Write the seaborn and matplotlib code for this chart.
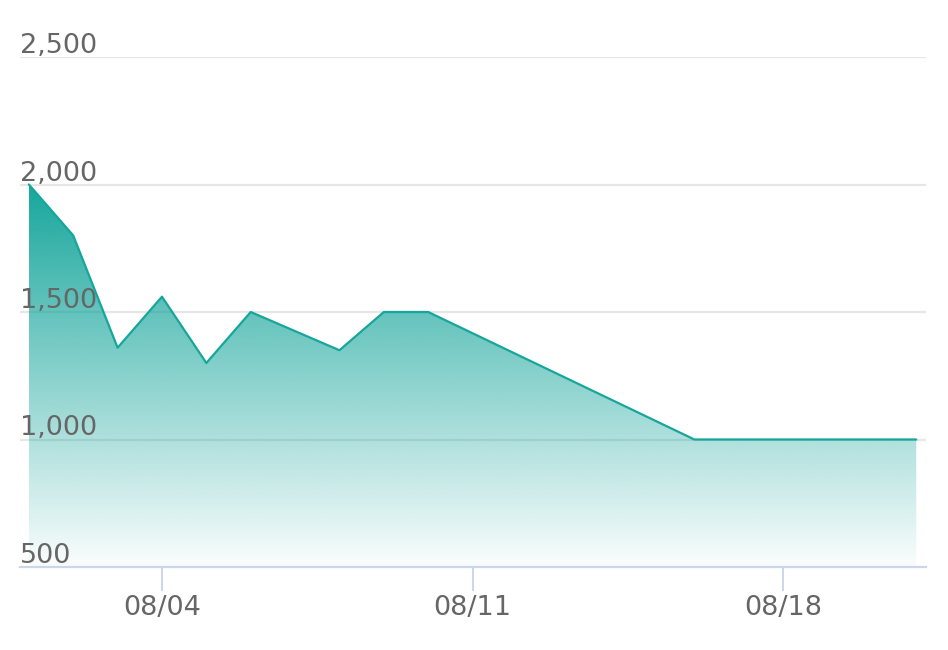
import matplotlib
matplotlib.use("Agg")
import matplotlib.pyplot as plt
import matplotlib.dates as mdates
import matplotlib.transforms as mtransforms
import numpy as np
import pandas as pd
import seaborn as sns

# -----------------------------
# DATA
# -----------------------------
dates = ["2024-08-01", "2024-08-02", "2024-08-03", "2024-08-04", "2024-08-05",
         "2024-08-06", "2024-08-08", "2024-08-09", "2024-08-10", "2024-08-16",
         "2024-08-21"]
values = [2000, 1800, 1360, 1560, 1300, 1500, 1350, 1500, 1500, 1000, 1000]

y_ticks = [500, 1000, 1500, 2000, 2500]
x_ticks = ["2024-08-04", "2024-08-11", "2024-08-18"]

df = pd.DataFrame({"date": pd.to_datetime(dates), "value": values})

line_color = "#17a69c"
text_color = "#666666"

# -----------------------------
# FIGURE
# -----------------------------
sns.set_theme(style="white")
plt.rcParams["font.family"] = ["DejaVu Sans"]

fig = plt.figure(figsize=(9.48, 6.5), dpi=100)
ax = fig.add_axes([20 / 948, 83 / 650, 906 / 948, 510 / 650])

sns.lineplot(data=df, x="date", y="value", color=line_color, linewidth=1.6, ax=ax, zorder=4)

xn = mdates.date2num(df["date"])
ax.set_xlim(xn[0] - 0.2, xn[-1] + 0.22)
ax.set_ylim(500, 2500)

# gradient fill under the line
fill = ax.fill_between(df["date"], df["value"], 500, color="none", lw=0)
ymax = max(values)
grad = np.linspace(0, 1, 256).reshape(-1, 1)
rgb = np.array(matplotlib.colors.to_rgb(line_color))
img = np.zeros((256, 1, 4))
img[:, 0, :3] = rgb
img[:, 0, 3] = 1 - grad[:, 0] * 0.98
im = ax.imshow(img, extent=[xn[0], xn[-1], 500, ymax], aspect="auto",
               origin="upper", zorder=2, interpolation="bilinear")
im.set_clip_path(fill.get_paths()[0], transform=ax.transData)

# grid lines
for yv in y_ticks[1:]:
    ax.axhline(yv, color="#e6e6e6", lw=1.6, zorder=1)

# y labels above grid lines
offset = mtransforms.ScaledTranslation(0, 4 / 100, fig.dpi_scale_trans)
trans = mtransforms.blended_transform_factory(ax.transAxes, ax.transData) + offset
for yv in y_ticks:
    ax.text(0, yv, f"{yv:,}", transform=trans, ha="left", va="baseline",
            fontsize=19.5, color=text_color)

ax.set_yticks([])
ax.set_xticks(pd.to_datetime(x_ticks))
ax.xaxis.set_major_formatter(mdates.DateFormatter("%m/%d"))
ax.tick_params(axis="x", length=17, width=1.4, color="#ccd6eb", pad=3,
               labelsize=19.5, labelcolor=text_color, bottom=True)
ax.set_xlabel("")
ax.set_ylabel("")

for side in ["top", "right", "left"]:
    ax.spines[side].set_visible(False)
ax.spines["bottom"].set_color("#ccd6eb")
ax.spines["bottom"].set_linewidth(1.6)

fig.savefig("out.png", dpi=100)
